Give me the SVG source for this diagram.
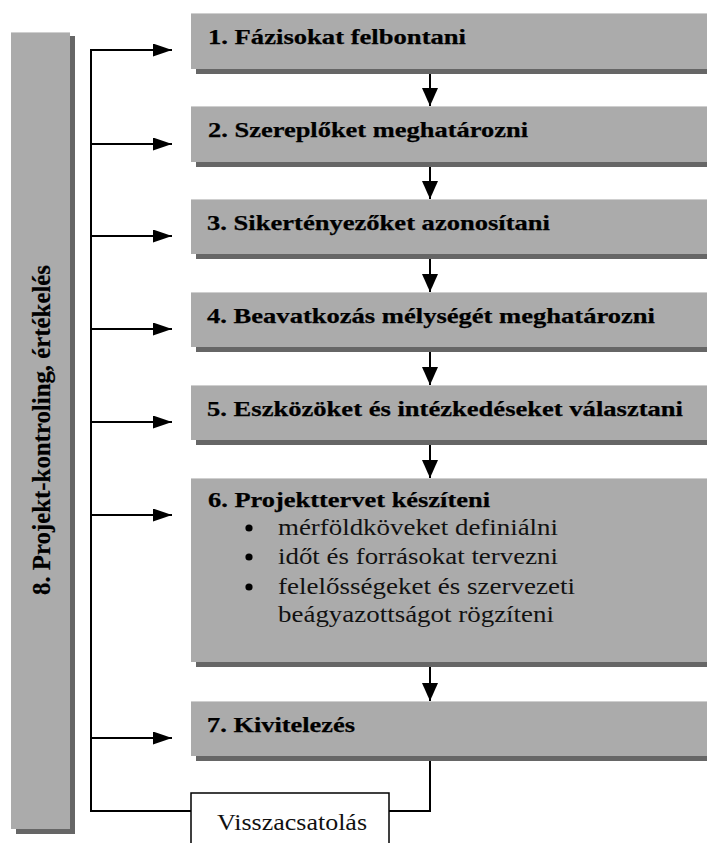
<svg xmlns="http://www.w3.org/2000/svg" width="707" height="843" viewBox="0 0 707 843">
  <style>
    .box { fill: #ababab; }
    .shadow { fill: #666666; }
    .hl { fill: #cfcfcf; }
    text { font-family: "Liberation Serif", "Times New Roman", "DejaVu Serif", serif; }
    .title { font-weight: bold; font-size: 22px; fill: #000; stroke: #000; stroke-width: 0.25; }
    .item { font-size: 22.5px; fill: #111; }
    .side { font-weight: bold; font-size: 24.5px; fill: #000; stroke: #000; stroke-width: 0.2; }
    .wire { fill: none; stroke: #000; stroke-width: 2; }
  </style>
  <defs>
    <marker id="arrowH" markerUnits="userSpaceOnUse" markerWidth="19" markerHeight="13" refX="19" refY="6.5" orient="auto">
      <path d="M0,0 L19,6.5 L0,13 z" fill="#000"/>
    </marker>
    <marker id="arrowV" markerUnits="userSpaceOnUse" markerWidth="18" markerHeight="16" refX="18" refY="8" orient="auto">
      <path d="M0,0 L18,8 L0,16 z" fill="#000"/>
    </marker>
  </defs>

  <rect width="707" height="843" fill="#fff"/>

  <!-- connectors -->
  <g id="connectors">
    <path class="wire" d="M91,49 V811 H191"/>
    <path class="wire" d="M389,811 H430 V756"/>
    <path class="wire" marker-end="url(#arrowH)" d="M91,50 H172"/>
    <path class="wire" marker-end="url(#arrowH)" d="M91,144 H172"/>
    <path class="wire" marker-end="url(#arrowH)" d="M91,236 H172"/>
    <path class="wire" marker-end="url(#arrowH)" d="M91,329 H172"/>
    <path class="wire" marker-end="url(#arrowH)" d="M91,422 H172"/>
    <path class="wire" marker-end="url(#arrowH)" d="M91,515 H172"/>
    <path class="wire" marker-end="url(#arrowH)" d="M91,738 H172"/>
    <path class="wire" marker-end="url(#arrowV)" d="M430,69 V106"/>
    <path class="wire" marker-end="url(#arrowV)" d="M430,162 V199"/>
    <path class="wire" marker-end="url(#arrowV)" d="M430,254 V292"/>
    <path class="wire" marker-end="url(#arrowV)" d="M430,347 V385"/>
    <path class="wire" marker-end="url(#arrowV)" d="M430,440 V478"/>
    <path class="wire" marker-end="url(#arrowV)" d="M430,662 V701"/>
  </g>

  <!-- side bar: project control -->
  <g id="n8">
    <rect class="shadow" x="16" y="36" width="59" height="798"/>
    <rect class="box" x="11" y="32" width="59" height="797"/>
    <rect class="hl" x="11" y="32" width="59" height="1"/>
    <text class="side" transform="translate(50,430) rotate(-90)" text-anchor="middle" textLength="330" lengthAdjust="spacingAndGlyphs">8. Projekt-kontroling, értékelés</text>
  </g>

  <g id="n1">
    <rect class="shadow" x="196" y="18" width="530" height="56"/>
    <rect class="box" x="191" y="13" width="530" height="56"/>
    <rect class="hl" x="191" y="13" width="530" height="1"/>
    <text class="title" x="208" y="44" textLength="258" lengthAdjust="spacingAndGlyphs">1. Fázisokat felbontani</text>
  </g>

  <g id="n2">
    <rect class="shadow" x="196" y="111" width="530" height="56"/>
    <rect class="box" x="191" y="106" width="530" height="56"/>
    <rect class="hl" x="191" y="106" width="530" height="1"/>
    <text class="title" x="208" y="137" textLength="320" lengthAdjust="spacingAndGlyphs">2. Szereplőket meghatározni</text>
  </g>

  <g id="n3">
    <rect class="shadow" x="196" y="204" width="530" height="55"/>
    <rect class="box" x="191" y="199" width="530" height="55"/>
    <rect class="hl" x="191" y="199" width="530" height="1"/>
    <text class="title" x="207" y="230" textLength="343" lengthAdjust="spacingAndGlyphs">3. Sikertényezőket azonosítani</text>
  </g>

  <g id="n4">
    <rect class="shadow" x="196" y="297" width="530" height="55"/>
    <rect class="box" x="191" y="292" width="530" height="55"/>
    <rect class="hl" x="191" y="292" width="530" height="1"/>
    <text class="title" x="207" y="323" textLength="448" lengthAdjust="spacingAndGlyphs">4. Beavatkozás mélységét meghatározni</text>
  </g>

  <g id="n5">
    <rect class="shadow" x="196" y="390" width="530" height="55"/>
    <rect class="box" x="191" y="385" width="530" height="55"/>
    <rect class="hl" x="191" y="385" width="530" height="1"/>
    <text class="title" x="207" y="416" textLength="476" lengthAdjust="spacingAndGlyphs">5. Eszközöket és intézkedéseket választani</text>
  </g>

  <g id="n6">
    <rect class="shadow" x="196" y="483" width="530" height="184"/>
    <rect class="box" x="191" y="478" width="530" height="184"/>
    <rect class="hl" x="191" y="478" width="530" height="1"/>
    <text class="title" x="208" y="507" textLength="282" lengthAdjust="spacingAndGlyphs">6. Projekttervet készíteni</text>
    <circle cx="249" cy="528" r="3.6" fill="#000"/>
    <circle cx="249" cy="557" r="3.6" fill="#000"/>
    <circle cx="249" cy="587" r="3.6" fill="#000"/>
    <text class="item" x="278" y="535" textLength="280" lengthAdjust="spacingAndGlyphs">mérföldköveket definiálni</text>
    <text class="item" x="278" y="564" textLength="280" lengthAdjust="spacingAndGlyphs">időt és forrásokat tervezni</text>
    <text class="item" x="278" y="594" textLength="297" lengthAdjust="spacingAndGlyphs">felelősségeket és szervezeti</text>
    <text class="item" x="278" y="622" textLength="276" lengthAdjust="spacingAndGlyphs">beágyazottságot rögzíteni</text>
  </g>

  <g id="n7">
    <rect class="shadow" x="196" y="706" width="530" height="55"/>
    <rect class="box" x="191" y="701" width="530" height="55"/>
    <rect class="hl" x="191" y="701" width="530" height="1"/>
    <text class="title" x="207" y="732" textLength="148" lengthAdjust="spacingAndGlyphs">7. Kivitelezés</text>
  </g>

  <g id="feedback">
    <rect x="191" y="793" width="198" height="70" fill="#fff" stroke="#000" stroke-width="1.5"/>
    <text class="item" x="217" y="830" textLength="150" lengthAdjust="spacingAndGlyphs">Visszacsatolás</text>
  </g>
</svg>
